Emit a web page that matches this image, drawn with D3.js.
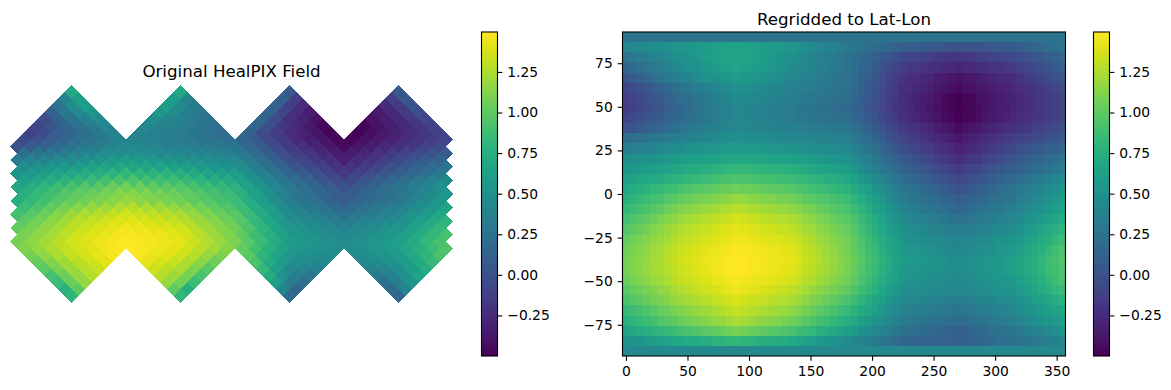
<!DOCTYPE html>
<html>
<head>
<meta charset="utf-8">
<script src="https://cdn.jsdelivr.net/npm/d3@7"></script>
<style>
  body { margin: 0; background: #fff; }
  svg { display: block; font-family: "DejaVu Sans", sans-serif; }
  .tick text { font-size: 13.89px; fill: #000; font-family: "DejaVu Sans", sans-serif; }
  .tick line { stroke: #000; stroke-width: 1.1px; }
  .domain { display: none; }
</style>
</head>
<body>
<div id="chart"></div>
<script>
const xTicks = [0, 50, 100, 150, 200, 250, 300, 350];
const yTicks = [-75, -50, -25, 0, 25, 50, 75];
const cbTicks = [-0.25, 0, 0.25, 0.5, 0.75, 1, 1.25];
const valueRange = [-0.5, 1.496];

// regridded field, top row (lat 90) to bottom row (lat -90), 64 columns from lon 0
const regrid = [
[.26,.26,.26,.26,.26,.26,.26,.26,.26,.26,.26,.26,.26,.26,.26,.26,.26,.26,.26,.26,.26,.26,.26,.26,.26,.26,.26,.26,.26,.26,.26,.26,.26,.26,.26,.26,.26,.26,.26,.26,.26,.26,.26,.26,.26,.26,.26,.26,.26,.26,.26,.26,.26,.26,.26,.26,.26,.26,.26,.26,.26,.26,.26,.26],
[.40,.42,.44,.45,.47,.49,.51,.52,.54,.56,.57,.59,.60,.62,.63,.65,.66,.65,.63,.62,.60,.59,.57,.56,.54,.51,.48,.45,.42,.39,.36,.33,.30,.28,.25,.23,.20,.18,.15,.13,.10,.09,.08,.06,.05,.04,.03,.01,0,.01,.02,.02,.03,.04,.05,.05,.06,.09,.12,.15,.17,.20,.23,.26],
[.26,.29,.32,.35,.38,.41,.44,.47,.50,.53,.56,.59,.61,.63,.65,.67,.68,.67,.65,.63,.60,.58,.55,.52,.50,.47,.44,.41,.38,.35,.32,.29,.26,.22,.18,.14,.10,.06,.02,-.02,-.06,-.08,-.10,-.12,-.14,-.16,-.18,-.19,-.20,-.18,-.16,-.14,-.13,-.11,-.09,-.08,-.06,-.03,0,.03,.06,.09,.12,.15],
[.14,.18,.22,.26,.30,.34,.38,.42,.46,.49,.52,.55,.58,.60,.62,.64,.66,.64,.62,.60,.57,.55,.52,.49,.46,.44,.41,.39,.36,.34,.31,.29,.26,.21,.16,.11,.06,.01,-.04,-.09,-.14,-.16,-.18,-.20,-.22,-.24,-.26,-.28,-.30,-.28,-.26,-.24,-.23,-.21,-.19,-.18,-.16,-.12,-.09,-.05,-.01,.03,.06,.10],
[.02,.07,.11,.16,.20,.25,.29,.34,.38,.41,.44,.47,.50,.52,.55,.58,.60,.58,.56,.54,.51,.49,.47,.44,.42,.40,.38,.36,.33,.31,.29,.26,.24,.19,.13,.07,.02,-.04,-.09,-.15,-.20,-.23,-.25,-.28,-.30,-.33,-.35,-.38,-.40,-.38,-.36,-.34,-.32,-.30,-.28,-.26,-.24,-.20,-.16,-.13,-.09,-.05,-.02,.02],
[-.10,-.06,-.01,.04,.08,.13,.17,.22,.26,.29,.32,.35,.38,.41,.44,.47,.50,.49,.47,.46,.44,.43,.41,.40,.38,.36,.35,.33,.31,.29,.27,.26,.24,.18,.12,.06,.01,-.05,-.11,-.16,-.22,-.25,-.28,-.30,-.33,-.36,-.39,-.42,-.44,-.42,-.40,-.38,-.36,-.34,-.32,-.30,-.28,-.25,-.22,-.19,-.16,-.13,-.09,-.06],
[-.14,-.10,-.06,-.01,.03,.07,.11,.16,.20,.23,.27,.30,.33,.36,.39,.43,.46,.45,.43,.42,.40,.39,.37,.36,.34,.33,.31,.30,.28,.26,.25,.23,.22,.16,.10,.04,-.01,-.07,-.13,-.18,-.24,-.27,-.31,-.34,-.37,-.40,-.44,-.47,-.50,-.47,-.45,-.42,-.40,-.37,-.35,-.32,-.30,-.27,-.24,-.21,-.18,-.15,-.13,-.10],
[-.16,-.12,-.08,-.04,0,.04,.08,.12,.16,.20,.24,.27,.30,.33,.36,.39,.42,.41,.40,.39,.37,.36,.35,.33,.32,.30,.28,.27,.25,.23,.21,.20,.18,.13,.08,.02,-.03,-.08,-.14,-.19,-.24,-.28,-.32,-.35,-.39,-.42,-.45,-.48,-.50,-.48,-.45,-.43,-.40,-.38,-.35,-.33,-.30,-.27,-.24,-.21,-.18,-.15,-.13,-.10],
[-.10,-.06,-.03,.01,.04,.08,.11,.15,.18,.21,.24,.27,.30,.33,.36,.39,.42,.41,.40,.39,.37,.36,.35,.33,.32,.31,.30,.28,.27,.26,.25,.23,.22,.16,.11,.05,0,-.06,-.11,-.17,-.22,-.26,-.30,-.33,-.36,-.39,-.43,-.46,-.50,-.47,-.45,-.42,-.39,-.36,-.33,-.31,-.28,-.25,-.23,-.20,-.18,-.15,-.13,-.10],
[0,.03,.07,.10,.13,.16,.20,.23,.26,.28,.31,.33,.35,.37,.40,.42,.44,.43,.42,.41,.40,.39,.38,.37,.36,.35,.34,.33,.32,.31,.30,.29,.28,.22,.17,.11,.06,0,-.05,-.11,-.16,-.19,-.23,-.26,-.30,-.33,-.37,-.40,-.44,-.41,-.39,-.36,-.33,-.30,-.27,-.25,-.22,-.19,-.16,-.14,-.11,-.08,-.05,-.02],
[.20,.22,.24,.26,.28,.30,.32,.34,.36,.38,.40,.41,.43,.45,.47,.48,.50,.49,.48,.47,.46,.45,.44,.43,.42,.41,.41,.40,.39,.38,.38,.37,.36,.30,.24,.19,.13,.07,.01,-.04,-.10,-.13,-.17,-.20,-.24,-.27,-.31,-.34,-.38,-.35,-.32,-.29,-.26,-.23,-.20,-.17,-.14,-.11,-.08,-.05,-.03,0,.03,.06],
[.34,.36,.38,.39,.41,.43,.45,.46,.48,.50,.51,.53,.54,.56,.57,.59,.60,.59,.58,.57,.56,.55,.54,.53,.52,.51,.50,.49,.48,.47,.46,.45,.44,.38,.33,.27,.21,.15,.10,.04,-.02,-.06,-.10,-.13,-.17,-.21,-.25,-.28,-.32,-.29,-.26,-.23,-.19,-.16,-.13,-.09,-.06,-.03,.01,.04,.07,.10,.13,.16],
[.46,.48,.50,.51,.53,.55,.57,.58,.60,.61,.63,.64,.65,.66,.68,.69,.70,.69,.69,.68,.67,.66,.66,.65,.64,.62,.61,.59,.58,.56,.55,.53,.52,.46,.40,.35,.29,.23,.17,.12,.06,.02,-.02,-.06,-.09,-.13,-.17,-.21,-.24,-.21,-.18,-.15,-.11,-.08,-.05,-.01,.02,.05,.09,.12,.15,.19,.22,.26],
[.54,.56,.58,.60,.62,.64,.66,.68,.70,.72,.73,.75,.76,.78,.79,.81,.82,.81,.81,.80,.79,.78,.78,.77,.76,.74,.72,.70,.68,.66,.64,.62,.60,.54,.49,.43,.37,.31,.26,.20,.14,.10,.06,.03,-.01,-.05,-.09,-.12,-.16,-.13,-.09,-.06,-.03,.01,.04,.07,.10,.13,.17,.20,.23,.27,.30,.34],
[.62,.64,.67,.69,.71,.73,.76,.78,.80,.82,.84,.85,.87,.89,.91,.92,.94,.93,.92,.91,.90,.89,.88,.87,.86,.84,.82,.80,.78,.76,.74,.72,.70,.64,.58,.52,.46,.40,.34,.28,.22,.18,.14,.11,.07,.03,-.01,-.04,-.08,-.05,-.01,.02,.05,.08,.12,.15,.18,.22,.26,.30,.33,.37,.42,.46],
[.70,.73,.76,.78,.81,.84,.87,.89,.92,.94,.96,.97,.99,1.01,1.03,1.04,1.06,1.05,1.04,1.03,1.01,1.00,.99,.97,.96,.94,.92,.89,.87,.85,.83,.80,.78,.72,.66,.60,.54,.48,.42,.36,.30,.26,.23,.19,.15,.11,.08,.04,0,.03,.07,.10,.13,.16,.20,.23,.26,.30,.34,.37,.41,.45,.49,.54],
[.76,.79,.83,.86,.89,.92,.96,.99,1.02,1.04,1.06,1.08,1.10,1.12,1.14,1.16,1.18,1.17,1.15,1.14,1.12,1.11,1.09,1.08,1.06,1.04,1.01,.99,.96,.94,.91,.89,.86,.80,.73,.67,.60,.54,.47,.41,.34,.31,.27,.24,.21,.18,.14,.11,.08,.11,.14,.16,.19,.22,.25,.27,.30,.34,.38,.42,.46,.50,.55,.60],
[.82,.86,.90,.93,.97,1.01,1.05,1.08,1.12,1.14,1.16,1.18,1.20,1.22,1.24,1.26,1.28,1.27,1.25,1.24,1.22,1.21,1.19,1.18,1.16,1.13,1.10,1.07,1.04,1.01,.98,.95,.92,.86,.79,.73,.66,.60,.53,.47,.40,.37,.34,.31,.28,.25,.22,.19,.16,.19,.21,.24,.26,.29,.31,.34,.36,.40,.44,.48,.52,.56,.61,.66],
[.90,.94,.98,1.01,1.05,1.09,1.13,1.16,1.20,1.22,1.24,1.26,1.28,1.30,1.32,1.34,1.36,1.35,1.33,1.32,1.30,1.29,1.27,1.26,1.24,1.21,1.17,1.14,1.11,1.08,1.04,1.01,.98,.92,.85,.79,.72,.66,.59,.53,.46,.43,.41,.38,.35,.32,.30,.27,.24,.26,.29,.31,.33,.35,.38,.40,.42,.46,.51,.55,.59,.64,.69,.74],
[.96,1.00,1.04,1.07,1.11,1.15,1.19,1.22,1.26,1.28,1.30,1.32,1.34,1.36,1.38,1.40,1.42,1.41,1.39,1.38,1.36,1.35,1.33,1.32,1.30,1.27,1.23,1.20,1.16,1.13,1.09,1.06,1.02,.96,.89,.83,.76,.70,.63,.57,.50,.48,.46,.43,.41,.39,.37,.34,.32,.34,.36,.38,.40,.42,.44,.46,.48,.52,.57,.61,.66,.71,.76,.80],
[1.02,1.06,1.09,1.13,1.16,1.20,1.23,1.27,1.30,1.32,1.34,1.36,1.38,1.40,1.42,1.44,1.46,1.45,1.44,1.43,1.41,1.40,1.39,1.37,1.36,1.32,1.29,1.25,1.21,1.17,1.13,1.10,1.06,.99,.93,.86,.80,.73,.67,.60,.54,.52,.50,.48,.46,.44,.42,.40,.38,.40,.42,.44,.46,.48,.50,.52,.54,.58,.63,.67,.72,.76,.81,.86],
[1.06,1.09,1.13,1.16,1.20,1.23,1.27,1.30,1.34,1.36,1.38,1.40,1.42,1.43,1.45,1.47,1.49,1.48,1.47,1.46,1.45,1.44,1.43,1.41,1.40,1.36,1.32,1.28,1.24,1.20,1.16,1.12,1.08,1.01,.95,.88,.83,.76,.70,.64,.58,.56,.54,.52,.50,.48,.46,.44,.42,.44,.46,.48,.50,.52,.54,.56,.58,.62,.67,.72,.77,.82,.87,.92],
[1.08,1.11,1.15,1.18,1.22,1.25,1.29,1.32,1.36,1.38,1.40,1.42,1.44,1.45,1.47,1.49,1.50,1.49,1.48,1.47,1.46,1.45,1.44,1.43,1.42,1.38,1.34,1.30,1.26,1.22,1.18,1.14,1.10,1.04,.98,.91,.85,.79,.73,.66,.60,.58,.56,.55,.53,.51,.50,.48,.46,.48,.50,.52,.54,.56,.58,.60,.62,.67,.71,.76,.81,.86,.91,.96],
[1.08,1.11,1.14,1.18,1.21,1.24,1.27,1.31,1.34,1.36,1.38,1.41,1.43,1.45,1.47,1.49,1.50,1.49,1.48,1.47,1.45,1.44,1.43,1.41,1.40,1.36,1.32,1.29,1.25,1.21,1.17,1.13,1.08,1.02,.96,.89,.83,.77,.71,.64,.58,.56,.55,.53,.52,.50,.49,.47,.46,.48,.50,.52,.54,.56,.58,.60,.62,.67,.71,.75,.80,.85,.89,.94],
[1.04,1.08,1.11,1.15,1.18,1.22,1.25,1.29,1.32,1.34,1.36,1.38,1.40,1.42,1.44,1.46,1.48,1.46,1.45,1.43,1.42,1.41,1.39,1.38,1.36,1.32,1.28,1.25,1.21,1.17,1.13,1.10,1.06,1.00,.93,.87,.80,.74,.67,.61,.54,.53,.52,.50,.49,.48,.47,.45,.44,.46,.48,.49,.51,.53,.55,.56,.58,.63,.67,.72,.77,.82,.87,.92],
[.98,1.02,1.05,1.09,1.12,1.16,1.19,1.23,1.26,1.28,1.31,1.33,1.35,1.37,1.40,1.42,1.44,1.42,1.40,1.39,1.37,1.35,1.33,1.32,1.30,1.26,1.23,1.19,1.15,1.11,1.08,1.04,1.00,.94,.88,.81,.75,.69,.63,.56,.50,.49,.48,.47,.46,.45,.44,.43,.42,.44,.45,.47,.48,.50,.51,.53,.54,.59,.63,.68,.72,.77,.81,.86],
[.92,.96,.99,1.03,1.06,1.10,1.13,1.17,1.20,1.22,1.25,1.27,1.29,1.31,1.34,1.36,1.38,1.36,1.34,1.33,1.31,1.29,1.27,1.26,1.24,1.20,1.16,1.12,1.08,1.04,1.00,.96,.92,.86,.80,.74,.68,.62,.56,.50,.44,.43,.42,.40,.39,.38,.37,.35,.34,.36,.38,.39,.41,.43,.45,.46,.48,.52,.56,.60,.64,.69,.73,.78],
[.84,.88,.91,.95,.98,1.02,1.05,1.09,1.12,1.15,1.17,1.20,1.22,1.25,1.27,1.30,1.32,1.30,1.28,1.26,1.24,1.22,1.20,1.18,1.16,1.12,1.08,1.04,1.00,.96,.92,.88,.84,.78,.72,.67,.61,.55,.49,.44,.38,.37,.35,.34,.32,.31,.29,.28,.26,.28,.30,.32,.34,.36,.38,.40,.42,.46,.50,.53,.57,.61,.65,.70],
[.76,.80,.83,.87,.90,.94,.97,1.01,1.04,1.07,1.09,1.12,1.14,1.17,1.19,1.22,1.24,1.22,1.20,1.17,1.15,1.13,1.11,1.08,1.06,1.02,.98,.94,.90,.86,.82,.78,.74,.69,.64,.58,.53,.48,.43,.37,.32,.30,.29,.27,.25,.23,.21,.20,.18,.20,.23,.25,.27,.29,.32,.34,.36,.40,.44,.47,.51,.54,.58,.62],
[.66,.69,.72,.75,.78,.81,.84,.87,.90,.92,.95,.97,.99,1.01,1.04,1.06,1.08,1.06,1.04,1.02,1.00,.98,.96,.94,.92,.88,.85,.81,.77,.73,.70,.66,.62,.57,.52,.48,.43,.38,.34,.29,.24,.22,.21,.19,.17,.15,.14,.12,.10,.12,.15,.17,.19,.21,.24,.26,.28,.31,.35,.38,.41,.44,.48,.54],
[.50,.53,.55,.58,.60,.63,.65,.68,.70,.72,.73,.75,.76,.78,.79,.81,.82,.80,.79,.77,.76,.75,.73,.72,.70,.67,.64,.61,.58,.55,.52,.49,.46,.42,.39,.35,.31,.27,.24,.20,.16,.15,.14,.13,.13,.12,.11,.11,.10,.12,.14,.15,.17,.19,.21,.22,.24,.26,.28,.30,.32,.35,.37,.40],
[.44,.44,.44,.44,.44,.44,.44,.44,.44,.44,.44,.44,.44,.44,.44,.44,.44,.44,.44,.44,.44,.44,.44,.44,.44,.44,.44,.44,.44,.44,.44,.44,.44,.44,.44,.44,.44,.44,.44,.44,.44,.44,.44,.44,.44,.44,.44,.44,.44,.44,.44,.44,.44,.44,.44,.44,.44,.44,.44,.44,.44,.44,.44,.44]
];

// HEALPix rings, north to south, each running east from lon 0
const healRings = [
[.70,.70,.04,.04],
[.38,.60,.60,.40,.10,-.15,-.14,.05],
[.25,.46,.60,.60,.46,.33,.12,-.14,-.26,-.26,-.16,.02],
[.11,.29,.44,.55,.56,.47,.37,.29,.13,-.09,-.25,-.35,-.36,-.28,-.17,-.03],
[-.03,.12,.26,.36,.45,.48,.43,.38,.32,.27,.14,-.04,-.22,-.31,-.40,-.41,-.34,-.28,-.18,-.08],
[-.08,.03,.14,.24,.33,.42,.44,.40,.36,.32,.28,.24,.14,-.03,-.18,-.28,-.37,-.46,-.47,-.40,-.33,-.26,-.19,-.11],
[-.12,-.05,.07,.16,.23,.31,.39,.41,.37,.35,.32,.28,.24,.20,.12,-.04,-.14,-.24,-.32,-.39,-.47,-.49,-.43,-.36,-.30,-.24,-.18,-.11],
[-.06,.01,.08,.15,.21,.27,.33,.39,.41,.39,.36,.33,.31,.28,.26,.23,.16,.05,-.06,-.17,-.26,-.33,-.39,-.46,-.47,-.42,-.36,-.31,-.25,-.20,-.15,-.10],
[0,.07,.13,.20,.26,.31,.35,.40,.44,.42,.40,.38,.36,.34,.32,.30,.28,.17,.06,-.05,-.16,-.23,-.30,-.37,-.44,-.39,-.33,-.27,-.22,-.16,-.11,-.05],
[.22,.26,.30,.34,.38,.41,.45,.48,.49,.47,.45,.44,.41,.40,.39,.37,.30,.19,.07,-.04,-.13,-.20,-.27,-.34,-.35,-.29,-.23,-.17,-.11,-.05,0,.06],
[.34,.38,.41,.45,.48,.51,.54,.57,.60,.58,.56,.54,.52,.50,.48,.46,.44,.33,.21,.10,-.02,-.10,-.17,-.25,-.32,-.26,-.19,-.13,-.06,.01,.07,.13],
[.48,.51,.55,.58,.61,.64,.66,.69,.69,.67,.66,.64,.61,.58,.55,.52,.46,.35,.23,.12,.02,-.06,-.13,-.21,-.21,-.15,-.08,-.01,.05,.12,.19,.26],
[.54,.58,.62,.66,.70,.73,.76,.79,.82,.80,.79,.78,.76,.72,.68,.64,.60,.49,.37,.26,.14,.06,-.01,-.09,-.16,-.09,-.03,.04,.10,.17,.23,.30],
[.64,.69,.73,.78,.82,.85,.89,.92,.93,.91,.89,.87,.84,.80,.76,.72,.64,.52,.40,.28,.18,.11,.03,-.04,-.05,.02,.08,.15,.22,.30,.37,.46],
[.70,.76,.81,.87,.92,.96,.99,1.03,1.06,1.04,1.01,.99,.96,.92,.87,.83,.78,.66,.54,.42,.30,.23,.15,.08,0,.07,.13,.20,.26,.34,.41,.49],
[.76,.83,.89,.96,1.01,1.05,1.09,1.13,1.14,1.11,1.08,1.05,1.01,.96,.91,.86,.77,.64,.51,.38,.29,.22,.16,.09,.09,.14,.19,.24,.30,.38,.46,.55],
[.76,.83,.89,.96,1.02,1.06,1.10,1.14,1.18,1.15,1.12,1.09,1.06,1.01,.96,.91,.86,.73,.60,.47,.34,.27,.21,.14,.08,.14,.19,.25,.30,.38,.46,.55],
[.86,.93,1.01,1.08,1.14,1.18,1.22,1.26,1.27,1.24,1.21,1.18,1.13,1.07,1.01,.95,.86,.73,.60,.47,.37,.31,.25,.19,.19,.24,.29,.34,.40,.48,.56,.66],
[.90,.98,1.05,1.13,1.20,1.24,1.28,1.32,1.36,1.33,1.30,1.27,1.24,1.17,1.11,1.04,.98,.85,.72,.59,.46,.41,.35,.30,.24,.29,.33,.38,.42,.51,.59,.69],
[1.00,1.07,1.15,1.22,1.28,1.32,1.36,1.40,1.41,1.38,1.35,1.32,1.27,1.20,1.13,1.06,.96,.83,.70,.57,.48,.43,.39,.34,.34,.38,.42,.46,.52,.61,.71,.80],
[1.02,1.09,1.16,1.23,1.30,1.34,1.38,1.42,1.46,1.44,1.41,1.39,1.36,1.29,1.21,1.13,1.06,.93,.80,.67,.54,.50,.46,.42,.38,.42,.46,.50,.54,.63,.72,.81],
[1.09,1.16,1.23,1.30,1.36,1.40,1.43,1.47,1.48,1.46,1.44,1.41,1.36,1.28,1.20,1.12,1.01,.88,.76,.64,.56,.52,.48,.44,.44,.48,.52,.56,.62,.72,.82,.92],
[1.08,1.15,1.22,1.29,1.36,1.40,1.44,1.47,1.50,1.48,1.46,1.44,1.42,1.34,1.26,1.18,1.10,.98,.85,.73,.60,.56,.53,.50,.46,.50,.54,.58,.62,.71,.81,.91],
[1.11,1.18,1.24,1.31,1.36,1.41,1.45,1.49,1.49,1.47,1.44,1.41,1.36,1.29,1.21,1.13,1.02,.89,.77,.64,.56,.53,.50,.47,.48,.52,.56,.60,.67,.75,.85,.94],
[1.08,1.16,1.24,1.32,1.37,1.42,1.47,1.47,1.43,1.40,1.36,1.27,1.18,1.10,.98,.80,.66,.54,.51,.48,.45,.45,.49,.54,.58,.70,.80,.92],
[1.03,1.12,1.21,1.29,1.35,1.41,1.42,1.37,1.32,1.25,1.15,1.05,.92,.72,.58,.48,.46,.43,.44,.48,.52,.60,.71,.84],
[.98,1.09,1.20,1.27,1.34,1.35,1.29,1.24,1.11,.98,.83,.63,.44,.40,.36,.37,.42,.48,.60,.74],
[.91,1.05,1.17,1.27,1.28,1.20,1.08,.92,.72,.50,.35,.29,.30,.38,.50,.66],
[.85,1.04,1.17,1.18,1.06,.85,.60,.32,.22,.23,.36,.55],
[.78,1.00,1.00,.77,.43,.16,.18,.40],
[.80,.82,.18,.16]
];

const width = 1171, height = 390;
const color = d3.scaleSequential(d3.interpolateViridis).domain(valueRange);

const svg = d3.select("#chart").append("svg")
  .attr("width", width)
  .attr("height", height);

// left panel: HEALPix diamonds
const nside = 8;
const step = 90 / nside;
const healX = d3.scaleLinear().domain([0, 360]).range([17.1, 453.1]);
const healY = d3.scaleLinear().domain([0, 4 * nside]).range([85, 303]);

const healPixels = [];
healRings.forEach(function(vals, r) {
  const ring = r + 1;
  const capRows = ring < nside ? ring : (ring > 3 * nside ? 4 * nside - ring : 0);
  vals.forEach(function(v, j) {
    let lon;
    if (capRows) {
      const facet = Math.floor(j / capRows);
      lon = 45 + 90 * facet + (j % capRows - (capRows - 1) / 2) * step;
    } else {
      lon = (j + (ring % 2 === 0 ? 0.5 : 0)) * step;
    }
    healPixels.push({ lon: lon, ring: ring, v: v });
  });
});

svg.append("g").selectAll("polygon")
  .data(healPixels)
  .enter().append("polygon")
  .attr("points", d => [
    [healX(d.lon - step / 2), healY(d.ring)],
    [healX(d.lon), healY(d.ring - 1)],
    [healX(d.lon + step / 2), healY(d.ring)],
    [healX(d.lon), healY(d.ring + 1)]
  ].join(" "))
  .attr("fill", d => color(d.v))
  .attr("shape-rendering", "crispEdges");

svg.append("text")
  .attr("x", 231.5)
  .attr("y", 77)
  .attr("text-anchor", "middle")
  .style("font-size", "16.67px")
  .text("Original HealPIX Field");

// right panel: lat-lon grid
const nLon = regrid[0].length, nLat = regrid.length;
const dLon = 360 / nLon, dLat = 180 / (nLat - 1);
const lons = d3.range(nLon).map(i => i * dLon);
const lats = d3.range(nLat).map(i => 90 - i * dLat);

const x = d3.scaleLinear().domain([-dLon / 2, 360 - dLon / 2]).range([622.5, 1065.5]);
const y = d3.scaleLinear().domain([-90 - dLat / 2, 90 + dLat / 2]).range([356, 32]);

const cells = [];
regrid.forEach(function(row, i) {
  row.forEach(function(v, j) {
    cells.push({ lon: lons[j], lat: lats[i], v: v });
  });
});

svg.append("g").selectAll("rect")
  .data(cells)
  .enter().append("rect")
  .attr("x", d => x(d.lon - dLon / 2))
  .attr("y", d => y(d.lat + dLat / 2))
  .attr("width", x(dLon) - x(0))
  .attr("height", y(0) - y(dLat))
  .attr("fill", d => color(d.v))
  .attr("shape-rendering", "crispEdges");

svg.append("g")
  .attr("transform", "translate(0,356)")
  .call(d3.axisBottom(x).tickValues(xTicks).tickSize(4.86).tickPadding(4.9));

svg.append("g")
  .attr("transform", "translate(622.5,0)")
  .call(d3.axisLeft(y).tickValues(yTicks).tickSize(4.86).tickPadding(4.9));

svg.append("rect")
  .attr("x", 622.5).attr("y", 32)
  .attr("width", 443).attr("height", 324)
  .attr("fill", "none").attr("stroke", "#000").attr("stroke-width", 1.1);

svg.append("text")
  .attr("x", 844)
  .attr("y", 25)
  .attr("text-anchor", "middle")
  .style("font-size", "16.67px")
  .text("Regridded to Lat-Lon");

// colorbars
const cbY = d3.scaleLinear().domain(valueRange).range([356, 32]);
const grad = svg.append("defs").append("linearGradient")
  .attr("id", "viridis")
  .attr("x1", 0).attr("y1", 1).attr("x2", 0).attr("y2", 0);
grad.selectAll("stop")
  .data(d3.range(0, 1.001, 0.02))
  .enter().append("stop")
  .attr("offset", d => d)
  .attr("stop-color", d => d3.interpolateViridis(d));

[481.5, 1093.5].forEach(function(left) {
  svg.append("rect")
    .attr("x", left).attr("y", 32)
    .attr("width", 16).attr("height", 324)
    .attr("fill", "url(#viridis)")
    .attr("stroke", "#000").attr("stroke-width", 1.1);
  svg.append("g")
    .attr("transform", `translate(${left + 16},0)`)
    .call(d3.axisRight(cbY).tickValues(cbTicks).tickFormat(d3.format(".2f")).tickSize(4.86).tickPadding(4.9));
});
</script>
</body>
</html>
